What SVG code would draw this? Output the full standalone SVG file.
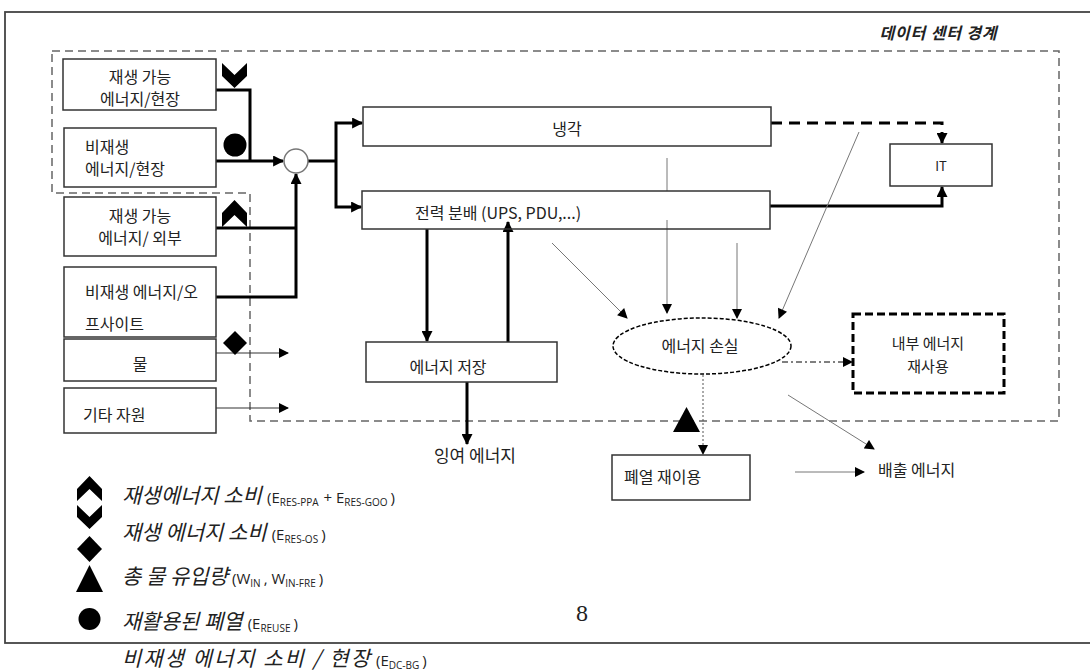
<svg xmlns="http://www.w3.org/2000/svg" width="1090" height="672" viewBox="0 0 1090 672">
<style>
text{font-family:"Noto Sans CJK KR","Liberation Sans",sans-serif;fill:#222;font-size:16px}
.c{text-anchor:middle}
.box{fill:#fff;stroke:#333;stroke-width:1.5}
.thick{fill:none;stroke:#000;stroke-width:3}
.thin{fill:none;stroke:#777;stroke-width:1}
.lg{font-style:italic;font-size:21px}
.sub{font-family:"Open Sans","Liberation Sans",sans-serif;font-style:normal;font-size:15px}
.ss{font-size:10px}
</style>
<defs>
<marker id="ab" viewBox="0 0 10 10" refX="9" refY="5" markerUnits="userSpaceOnUse" markerWidth="12" markerHeight="11" orient="auto"><path d="M0,0L10,5L0,10Z" fill="#000"/></marker>
<marker id="at" viewBox="0 0 10 10" refX="9" refY="5" markerUnits="userSpaceOnUse" markerWidth="11" markerHeight="10" orient="auto"><path d="M0,0L10,5L0,10Z" fill="#000"/></marker>
</defs>
<rect x="5" y="12" width="1090" height="631" fill="none" stroke="#444" stroke-width="1.8"/>
<path d="M52,51H1059V421H250V193H52Z" fill="none" stroke="#666" stroke-width="1.5" stroke-dasharray="8 5"/>
<text x="938" y="39" class="c" style="font-style:italic;font-weight:bold;font-size:16px" textLength="117">데이터 센터 경계</text>

<g id="connectors">
<path class="thick" d="M216,90H250V161"/>
<path class="thick" d="M216,161H283" marker-end="url(#ab)"/>
<path class="thick" d="M216,228H296"/>
<path class="thick" d="M216,297H296V174" marker-end="url(#ab)"/>
<path class="thick" d="M308,161H336"/>
<path class="thick" d="M336,161V123H362" marker-end="url(#ab)"/>
<path class="thick" d="M336,161V207H361" marker-end="url(#ab)"/>
<path class="thick" d="M427,229V341" marker-end="url(#ab)"/>
<path class="thick" d="M508,342V222" marker-end="url(#ab)"/>
<path class="thick" d="M467,382V444" marker-end="url(#ab)"/>
<path class="thick" d="M771,123H942V143" stroke-dasharray="11 7" stroke-width="4" marker-end="url(#ab)"/>
<path class="thick" d="M770,206H942V187" marker-end="url(#ab)"/>
<path fill="none" stroke="#333" stroke-width="1.2" d="M216,353H288" marker-end="url(#at)"/>
<path fill="none" stroke="#333" stroke-width="1.2" d="M216,408H288" marker-end="url(#at)"/>
<path class="thin" d="M667,158V191M667,220V313" marker-end="url(#at)"/>
<path class="thin" d="M737,243V318" marker-end="url(#at)"/>
<path class="thin" d="M859,132L779,318" marker-end="url(#at)"/>
<path class="thin" d="M552,243L627,318" marker-end="url(#at)"/>
<path fill="none" stroke="#000" stroke-width="1" stroke-dasharray="6 3 2 3" d="M782,362H852" marker-end="url(#at)"/>
<path fill="none" stroke="#555" stroke-width="1" stroke-dasharray="2 2" d="M703,375V454" marker-end="url(#at)"/>
<path class="thin" d="M788,395L874,449" marker-end="url(#at)"/>
<path class="thin" d="M795,472H864" marker-end="url(#at)"/>
</g>

<g id="n-res-onsite"><rect class="box" x="63" y="59" width="153" height="51"/><text class="c" x="140" y="83">재생 가능</text><text class="c" x="140" y="105">에너지/현장</text></g>
<g id="n-nonres-onsite"><rect class="box" x="64" y="128" width="152" height="59"/><text x="85" y="153">비재생</text><text x="85" y="175">에너지/현장</text></g>
<g id="n-res-ext"><rect class="box" x="64" y="197" width="152" height="59"/><text class="c" x="140" y="222">재생 가능</text><text class="c" x="140" y="244">에너지/ 외부</text></g>
<g id="n-nonres-off"><rect class="box" x="64" y="267" width="152" height="70"/><text x="85" y="298">비재생 에너지/오</text><text x="85" y="330">프사이트</text></g>
<g id="n-water"><rect class="box" x="64" y="339" width="152" height="42"/><text class="c" x="140" y="370">물</text></g>
<g id="n-other"><rect class="box" x="64" y="388" width="152" height="45"/><text x="83" y="421">기타 자원</text></g>

<g id="sym-down"><path d="M222,63L234.5,75L247,63V76L234.5,88L222,76Z" fill="#000"/></g>
<g id="sym-circle"><circle cx="235" cy="145" r="11.5" fill="#000"/></g>
<g id="sym-up"><path d="M222,213L234.5,200L247,213V227L234.5,215L222,227Z" fill="#000"/></g>
<g id="sym-diamond"><path d="M235,331L247,343L235,355L223,343Z" fill="#000"/></g>
<g id="junction"><circle cx="296" cy="161" r="12" fill="#fff" stroke="#777" stroke-width="1.5"/></g>

<g id="n-cooling"><rect class="box" x="363" y="107" width="408" height="39"/><text class="c" x="567" y="135">냉각</text></g>
<g id="n-power"><rect class="box" x="362" y="191" width="408" height="38" style="fill:none"/><text x="415" y="219">전력 분배 (UPS, PDU,...)</text></g>
<g id="n-it"><rect class="box" x="890" y="144" width="102" height="42"/><text class="c" x="941" y="171" style="font-size:13px">IT</text></g>
<g id="n-storage"><rect class="box" x="366" y="342" width="191" height="40"/><text class="c" x="448" y="373">에너지 저장</text></g>
<g id="n-surplus"><text class="c" x="475" y="462" style="font-size:17px">잉여 에너지</text></g>
<g id="n-loss"><ellipse cx="702" cy="346" rx="89" ry="28" fill="none" stroke="#000" stroke-width="1.5" stroke-dasharray="4 2"/><text class="c" x="700" y="352">에너지 손실</text></g>
<g id="n-reuse"><rect x="853" y="314" width="151" height="79" fill="#fff" stroke="#000" stroke-width="3" stroke-dasharray="8 4"/><text class="c" x="928" y="349" style="font-size:15px">내부 에너지</text><text class="c" x="928" y="372" style="font-size:15px">재사용</text></g>
<g id="n-heat"><rect class="box" x="612" y="455" width="138" height="45"/><text x="624" y="483">폐열 재이용</text></g>
<g id="n-exhaust"><text x="878" y="476">배출 에너지</text></g>
<g id="sym-tri"><path d="M673,432L686.5,407L700,432Z" fill="#000"/></g>

<g id="legend">
<path d="M77,489L89.5,476L102,489V501L89.5,489L77,501Z" fill="#000"/>
<path d="M77,505L89.5,517L102,505V517L89.5,529L77,517Z" fill="#000"/>
<path d="M89.5,536L102,549L89.5,562L77,549Z" fill="#000"/>
<path d="M76,592L89.5,565L103,592Z" fill="#000"/>
<circle cx="89.5" cy="619" r="11" fill="#000"/>
<text class="lg" x="122" y="503">재생에너지 소비<tspan class="sub" dx="5">(E</tspan><tspan class="sub ss" dy="3">RES-PPA</tspan><tspan class="sub" dy="-3" dx="5">+ E</tspan><tspan class="sub ss" dy="3">RES-GOO</tspan><tspan class="sub" dy="-3" dx="3">)</tspan></text>
<text class="lg" x="122" y="540">재생 에너지 소비<tspan class="sub" dx="5">(E</tspan><tspan class="sub ss" dy="3">RES-OS</tspan><tspan class="sub" dy="-3" dx="3">)</tspan></text>
<text class="lg" x="122" y="584">총 물 유입량<tspan class="sub" dx="4">(W</tspan><tspan class="sub ss" dy="3">IN</tspan><tspan class="sub" dy="-3" dx="3">, W</tspan><tspan class="sub ss" dy="3">IN-FRE</tspan><tspan class="sub" dy="-3" dx="3">)</tspan></text>
<text class="lg" x="122" y="629">재활용된 폐열<tspan class="sub" dx="5">(E</tspan><tspan class="sub ss" dy="3">REUSE</tspan><tspan class="sub" dy="-3" dx="3">)</tspan></text>
<text class="lg" x="122" y="666" textLength="248" lengthAdjust="spacing">비재생 에너지 소비 / 현장</text>
<text class="sub" x="376" y="666">(E<tspan class="ss" dy="3">DC-BG</tspan><tspan dy="-3" dx="3">)</tspan></text>
</g>
<text x="582" y="621" class="c" style="font-family:'Liberation Serif',serif;font-size:24px">8</text>
</svg>
